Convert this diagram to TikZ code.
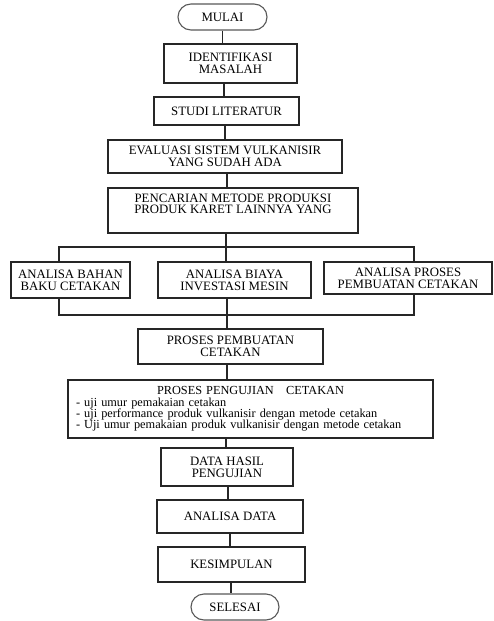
\documentclass[tikz,border=0pt]{standalone}
\usepackage{fontspec}
\setmainfont{Liberation Serif}
\begin{document}
\begin{tikzpicture}[x=1pt,y=-1pt,
  box/.style={draw=black!85, line width=1.1pt, align=center, inner sep=0pt,
    font=\fontsize{12.8}{11.8}\selectfont},
  term/.style={box, draw=black!65, rounded corners=13pt},
  conn/.style={draw=black!85, line width=1.1pt},
  lbl/.style={align=center, inner sep=0pt, font=\fontsize{12.8}{11.8}\selectfont}]
\useasboundingbox (0,0) rectangle (493,621);
\fill[white] (0,0) rectangle (493,621);
% nodes
\node[term, minimum width=89, minimum height=26] (mulai) at (222.5,17) {MULAI};
\node[box, minimum width=133, minimum height=39] (ident) at (230.5,63.5) {IDENTIFIKASI\\MASALAH};
\node[box, minimum width=145, minimum height=28] (studi) at (226.5,111) {STUDI LITERATUR};
\node[box, minimum width=234, minimum height=33] (eval) at (225,156.5) {EVALUASI SISTEM VULKANISIR\\YANG SUDAH ADA};
\node[box, minimum width=250, minimum height=45,
  label={[lbl, anchor=north, yshift=-6pt]north:{PENCARIAN METODE PRODUKSI\\PRODUK KARET LAINNYA YANG}}] (penc) at (233,210.5) {};
\node[box, minimum width=119, minimum height=36] (bahan) at (70.5,280) {ANALISA BAHAN\\BAKU CETAKAN};
\node[box, minimum width=153, minimum height=36] (biaya) at (234.5,280) {ANALISA BIAYA\\INVESTASI MESIN};
\node[box, minimum width=168, minimum height=32] (proses) at (408,278) {ANALISA PROSES\\PEMBUATAN CETAKAN};
\node[box, minimum width=185, minimum height=35] (buat) at (230.5,346.5) {PROSES PEMBUATAN\\CETAKAN};
\node[box, minimum width=365, minimum height=58, text width=349, align=left,
  font=\fontsize{12.3}{11.3}\selectfont] (uji) at (250.5,409)
  {\makebox[\linewidth][c]{PROSES PENGUJIAN\ \ \ CETAKAN}\\
   - uji umur pemakaian cetakan\\
   - uji performance produk vulkanisir dengan metode cetakan\\
   - Uji umur pemakaian produk vulkanisir dengan metode cetakan};
\node[box, minimum width=132, minimum height=38] (hasil) at (227,467) {DATA HASIL\\PENGUJIAN};
\node[box, minimum width=146, minimum height=33] (anal) at (230,516.5) {ANALISA DATA};
\node[box, minimum width=147, minimum height=35] (kes) at (231.5,564.5) {KESIMPULAN};
\node[term, minimum width=88, minimum height=26] (sel) at (235,607) {SELESAI};
% spine x positions
\coordinate (x1) at (222.5,0);
\coordinate (x2) at (224,0);
\coordinate (x3) at (225,0);
\coordinate (x4) at (227,0);
\coordinate (x5) at (226,0);
\coordinate (x6) at (228,0);
\coordinate (x7) at (230,0);
\coordinate (x8) at (231,0);
\coordinate (bl) at (59,0);
\coordinate (br) at (414,0);
\coordinate (top) at (0,247);
\coordinate (bot) at (0,315);
% connectors
\draw[conn] (mulai.south -| x1) -- (ident.north -| x1);
\draw[conn] (ident.south -| x2) -- (studi.north -| x2);
\draw[conn] (studi.south -| x3) -- (eval.north -| x3);
\draw[conn] (eval.south -| x4) -- (penc.north -| x4);
\draw[conn] (penc.south -| x5) -- (top -| x5);
\draw[conn] (bahan.north -| bl) -- (top -| bl) -- (top -| br) -- (proses.north -| br);
\draw[conn] (top -| x5) -- (biaya.north -| x5);
\draw[conn] (bahan.south -| bl) -- (bot -| bl) -- (bot -| br) -- (proses.south -| br);
\draw[conn] (biaya.south -| x4) -- (buat.north -| x4);
\draw[conn] (buat.south -| x4) -- (uji.north -| x4);
\draw[conn] (uji.south -| x5) -- (hasil.north -| x5);
\draw[conn] (hasil.south -| x6) -- (anal.north -| x6);
\draw[conn] (anal.south -| x7) -- (kes.north -| x7);
\draw[conn] (kes.south -| x8) -- (sel.north -| x8);
\end{tikzpicture}
\end{document}
